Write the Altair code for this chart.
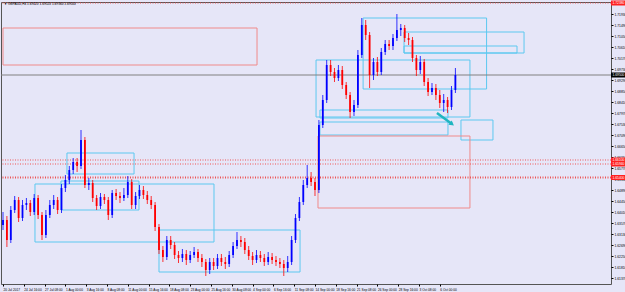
import altair as alt
import pandas as pd

# ---------------- data ----------------
symbol_title = "GBPAUD,H4  1.69420 1.69520 1.69360 1.69500"

# one candle per 12 hours (3 H4 bars)
bars_per_candle = 3
first_open = 1.6350
closes = [1.6370, 1.6290, 1.6410, 1.6450, 1.6378, 1.6430, 1.6438, 1.6402, 1.6458, 1.6390,
          1.6310, 1.6390, 1.6430, 1.6450, 1.6410, 1.6498, 1.6530, 1.6570, 1.6602, 1.6586,
          1.6690, 1.6510, 1.6518, 1.6458, 1.6426, 1.6462, 1.6450, 1.6390, 1.6478, 1.6466,
          1.6458, 1.6470, 1.6522, 1.6430, 1.6466, 1.6490, 1.6470, 1.6450, 1.6430, 1.6342,
          1.6250, 1.6222, 1.6290, 1.6270, 1.6230, 1.6218, 1.6234, 1.6210, 1.6230, 1.6242,
          1.6218, 1.6202, 1.6170, 1.6202, 1.6186, 1.6218, 1.6202, 1.6194, 1.6230, 1.6266,
          1.6290, 1.6282, 1.6250, 1.6226, 1.6210, 1.6230, 1.6218, 1.6202, 1.6222, 1.6210,
          1.6202, 1.6194, 1.6178, 1.6202, 1.6290, 1.6378, 1.6442, 1.6510, 1.6538, 1.6522,
          1.6490, 1.6750, 1.6850, 1.6990, 1.6962, 1.6938, 1.6970, 1.6910, 1.6870, 1.6802,
          1.6830, 1.7030, 1.7150, 1.7110, 1.6950, 1.7002, 1.6962, 1.7042, 1.7074, 1.7066,
          1.7098, 1.7130, 1.7138, 1.7098, 1.7090, 1.7018, 1.6970, 1.7002, 1.6922, 1.6882,
          1.6898, 1.6870, 1.6838, 1.6850, 1.6822, 1.6890, 1.6950]
highs = [1.6402, 1.6386, 1.6426, 1.6466, 1.6462, 1.6450, 1.6458, 1.6450, 1.6474, 1.6470,
         1.6402, 1.6410, 1.6450, 1.6470, 1.6462, 1.6514, 1.6550, 1.6586, 1.6618, 1.6618,
         1.6730, 1.6702, 1.6538, 1.6530, 1.6470, 1.6478, 1.6474, 1.6462, 1.6490, 1.6494,
         1.6482, 1.6498, 1.6546, 1.6534, 1.6482, 1.6510, 1.6506, 1.6486, 1.6466, 1.6442,
         1.6354, 1.6266, 1.6306, 1.6306, 1.6282, 1.6246, 1.6254, 1.6250, 1.6246, 1.6262,
         1.6254, 1.6234, 1.6214, 1.6218, 1.6218, 1.6234, 1.6234, 1.6222, 1.6246, 1.6282,
         1.6322, 1.6306, 1.6298, 1.6266, 1.6242, 1.6250, 1.6246, 1.6234, 1.6242, 1.6238,
         1.6226, 1.6218, 1.6210, 1.6226, 1.6306, 1.6394, 1.6462, 1.6530, 1.6590, 1.6562,
         1.6538, 1.6770, 1.6870, 1.7010, 1.7010, 1.6978, 1.6990, 1.6986, 1.6922, 1.6882,
         1.6850, 1.7050, 1.7178, 1.7170, 1.7122, 1.7018, 1.7022, 1.7058, 1.7090, 1.7090,
         1.7114, 1.7194, 1.7154, 1.7150, 1.7118, 1.7102, 1.7030, 1.7026, 1.7014, 1.6938,
         1.6918, 1.6914, 1.6890, 1.6874, 1.6862, 1.6906, 1.6978]
lows = [1.6330, 1.6262, 1.6278, 1.6398, 1.6362, 1.6366, 1.6410, 1.6386, 1.6390, 1.6374,
        1.6290, 1.6298, 1.6378, 1.6414, 1.6394, 1.6398, 1.6482, 1.6514, 1.6554, 1.6562,
        1.6574, 1.6498, 1.6490, 1.6442, 1.6410, 1.6414, 1.6434, 1.6370, 1.6378, 1.6450,
        1.6438, 1.6446, 1.6458, 1.6414, 1.6414, 1.6454, 1.6454, 1.6434, 1.6414, 1.6326,
        1.6234, 1.6202, 1.6210, 1.6254, 1.6214, 1.6198, 1.6202, 1.6190, 1.6198, 1.6218,
        1.6202, 1.6182, 1.6146, 1.6154, 1.6170, 1.6174, 1.6186, 1.6174, 1.6182, 1.6218,
        1.6254, 1.6262, 1.6234, 1.6210, 1.6190, 1.6198, 1.6202, 1.6186, 1.6190, 1.6194,
        1.6186, 1.6178, 1.6146, 1.6162, 1.6190, 1.6278, 1.6366, 1.6430, 1.6498, 1.6506,
        1.6466, 1.6478, 1.6738, 1.6838, 1.6946, 1.6922, 1.6926, 1.6894, 1.6854, 1.6778,
        1.6786, 1.6818, 1.7018, 1.7090, 1.6898, 1.6930, 1.6946, 1.6950, 1.7030, 1.7050,
        1.7050, 1.7086, 1.7106, 1.7082, 1.7070, 1.7002, 1.6946, 1.6954, 1.6906, 1.6866,
        1.6870, 1.6850, 1.6818, 1.6802, 1.6798, 1.6810, 1.6878]

# time axis (H4 bar index -> label)
date_tick_bars = [0, 16, 32, 48, 64, 80, 96, 112, 128, 144, 160, 176, 192, 208, 224,
                  240, 256, 272, 288, 304, 320, 336]
date_labels = ["20 Jul 2017", "24 Jul 16:00", "27 Jul 08:00", "1 Aug 00:00", "3 Aug 16:00",
               "8 Aug 08:00", "11 Aug 00:00", "15 Aug 16:00", "18 Aug 08:00", "23 Aug 00:00",
               "25 Aug 16:00", "30 Aug 08:00", "4 Sep 00:00", "6 Sep 16:00", "11 Sep 08:00",
               "14 Sep 00:00", "18 Sep 16:00", "21 Sep 08:00", "26 Sep 00:00", "28 Sep 16:00",
               "3 Oct 08:00", "6 Oct 00:00"]

price_ticks = [1.7193, 1.7149, 1.7105, 1.7061, 1.7017, 1.6973, 1.6929, 1.6885, 1.6841,
               1.6797, 1.6753, 1.6709, 1.6665, 1.6621, 1.6577, 1.6533, 1.6489, 1.6445,
               1.6401, 1.6357, 1.6313, 1.6269, 1.6225, 1.6181, 1.6137]

# rectangles drawn on the chart (H4 bar index, price)
rect_start = [277, 308.5, 308.5, 240.8, 243.8, 243.8, 352.3, 49.2, 44.6, 24.6, 120, 0, 242.3]
rect_end = [372, 400.8, 395.4, 359.2, 342.3, 342.3, 376.9, 100.8, 104.6, 162.3, 228.5, 195.4, 359.2]
rect_top = [1.7178, 1.7122, 1.7066, 1.7010, 1.6810, 1.6762, 1.6770, 1.6638, 1.6526, 1.6514, 1.6330, 1.7138, 1.6706]
rect_bottom = [1.6894, 1.7038, 1.7038, 1.6782, 1.6778, 1.6710, 1.6690, 1.6554, 1.6410, 1.6282, 1.6162, 1.6990, 1.6418]
rect_kind = ["zone"] * 11 + ["level", "level"]

# horizontal levels
thin_levels = [1.7238, 1.6610, 1.6594]
thick_levels = [1.6540]
current_price = 1.6950

# arrow (bar index, price)
arrow_from = (333.8, 1.6798)
arrow_to = (345.4, 1.6754)

# ---------------- build tables ----------------
opens = [first_open] + closes[:-1]
candles = pd.DataFrame({
    "t": [i * bars_per_candle for i in range(len(closes))],
    "open": opens, "close": closes, "high": highs, "low": lows,
})
candles["dir"] = ["up" if c >= o else "down" for o, c in zip(opens, closes)]

rects = pd.DataFrame({"x1": rect_start, "x2": rect_end, "top": rect_top,
                      "bot": rect_bottom, "kind": rect_kind})

BG = "#e6e6f8"
W, H = 610, 282
xs = alt.Scale(domain=[-1.54, 467.7], nice=False, zero=False)
ys = alt.Scale(domain=[1.6114, 1.7242], nice=False, zero=False)
dir_color = alt.Scale(domain=["up", "down"], range=["#0000ff", "#ff0000"])

label_expr = ("[" + ",".join("'%s'" % s for s in date_labels) + "][indexof(["
              + ",".join(str(b) for b in date_tick_bars) + "], datum.value)]")

x_axis = alt.Axis(values=date_tick_bars, labelExpr=label_expr, orient="bottom",
                  tickSize=2, labelFontSize=3.2, labelAlign="left", labelPadding=1,
                  labelOverlap=False, labelBound=False, labelFlush=False,
                  domain=False, grid=False, title=None, labelColor="#000", tickColor="#000",
                  labelFont="Liberation Sans")
y_axis = alt.Axis(values=price_ticks, format=".5f", orient="right", tickSize=2,
                  labelOverlap=False, labelBound=False, labelFlush=False,
                  labelFontSize=3.3, labelPadding=1, domain=False, grid=False, title=None,
                  labelColor="#000", tickColor="#000", labelFont="Liberation Sans")

wicks = alt.Chart(candles).mark_rule(strokeWidth=0.8).encode(
    x=alt.X("t:Q", scale=xs, axis=x_axis),
    y=alt.Y("low:Q", scale=ys, axis=y_axis),
    y2="high:Q",
    color=alt.Color("dir:N", scale=dir_color, legend=None),
)
bodies = alt.Chart(candles).mark_rule(strokeWidth=1.8).encode(
    x=alt.X("t:Q", scale=xs, axis=x_axis), y=alt.Y("open:Q", scale=ys, axis=y_axis), y2="close:Q",
    color=alt.Color("dir:N", scale=dir_color, legend=None),
)

zone_rects = alt.Chart(rects).mark_rect(fillOpacity=0, strokeWidth=1).encode(
    x=alt.X("x1:Q", scale=xs, axis=x_axis), x2="x2:Q",
    y=alt.Y("top:Q", scale=ys, axis=y_axis), y2="bot:Q",
    stroke=alt.Stroke("kind:N", scale=alt.Scale(domain=["zone", "level"],
                                                range=["#5cc8f0", "#f08a8a"]), legend=None),
)

thin = alt.Chart(pd.DataFrame({"p": thin_levels})).mark_rule(
    color="#ee5555", strokeWidth=1, strokeDash=[1, 1.5]).encode(y=alt.Y("p:Q", scale=ys, axis=y_axis))
thick = alt.Chart(pd.DataFrame({"p": thick_levels})).mark_rule(
    color="#ee5555", strokeWidth=2, strokeDash=[1, 1.5]).encode(y=alt.Y("p:Q", scale=ys, axis=y_axis))
cur = alt.Chart(pd.DataFrame({"p": [current_price]})).mark_rule(
    color="#808080", strokeWidth=1).encode(y=alt.Y("p:Q", scale=ys, axis=y_axis))

arrow_df = pd.DataFrame({"x": [arrow_from[0]], "y": [arrow_from[1]],
                         "x2": [arrow_to[0]], "y2": [arrow_to[1]]})
arrow_line = alt.Chart(arrow_df).mark_rule(color="#1fb5c0", strokeWidth=2.5).encode(
    x=alt.X("x:Q", scale=xs, axis=x_axis), y=alt.Y("y:Q", scale=ys, axis=y_axis), x2="x2:Q", y2="y2:Q")
arrow_head = alt.Chart(arrow_df).mark_point(shape="triangle-right", filled=True,
                                            color="#1fb5c0", size=30, angle=36, opacity=1).encode(
    x=alt.X("x2:Q", scale=xs, axis=x_axis), y=alt.Y("y2:Q", scale=ys, axis=y_axis))

lab_df = pd.DataFrame({
    "p": thin_levels + thick_levels + [current_price],
    "txt": ["%.5f" % v for v in thin_levels + thick_levels + [current_price]],
    "bg": ["#ff2020"] * (len(thin_levels) + len(thick_levels)) + ["#000000"],
})
lab_box = alt.Chart(lab_df).mark_tick(orient="horizontal", size=14, thickness=5, opacity=1).encode(
    y=alt.Y("p:Q", scale=ys, axis=y_axis), x=alt.value(W + 7),
    color=alt.Color("bg:N", scale=None))
lab_txt = alt.Chart(lab_df).mark_text(align="left", baseline="middle", fontSize=3.3,
                                      color="white", font="Liberation Sans").encode(
    y=alt.Y("p:Q", scale=ys, axis=y_axis), x=alt.value(W + 1.5), text="txt:N")

title_df = pd.DataFrame({"t": ["\u25bc " + symbol_title]})
title = alt.Chart(title_df).mark_text(align="left", baseline="middle", fontSize=3.2,
                                      color="#000", font="Liberation Sans").encode(
    x=alt.value(3), y=alt.value(2), text="t:N")

chart = alt.layer(
    zone_rects, thin, thick, cur, wicks, bodies, arrow_line, arrow_head,
    lab_box, lab_txt, title,
).properties(
    width=W, height=H,
    autosize="none",
    padding={"left": 1, "top": 2, "right": 14, "bottom": 8},
    background=BG,
).configure_view(
    fill=BG, stroke="#555555", strokeWidth=1,
).configure_axis(
    labelOverlap=False, labelBound=False, labelFlush=False,
)

chart.save("out.html", embed_options={"renderer": "svg", "actions": False})
